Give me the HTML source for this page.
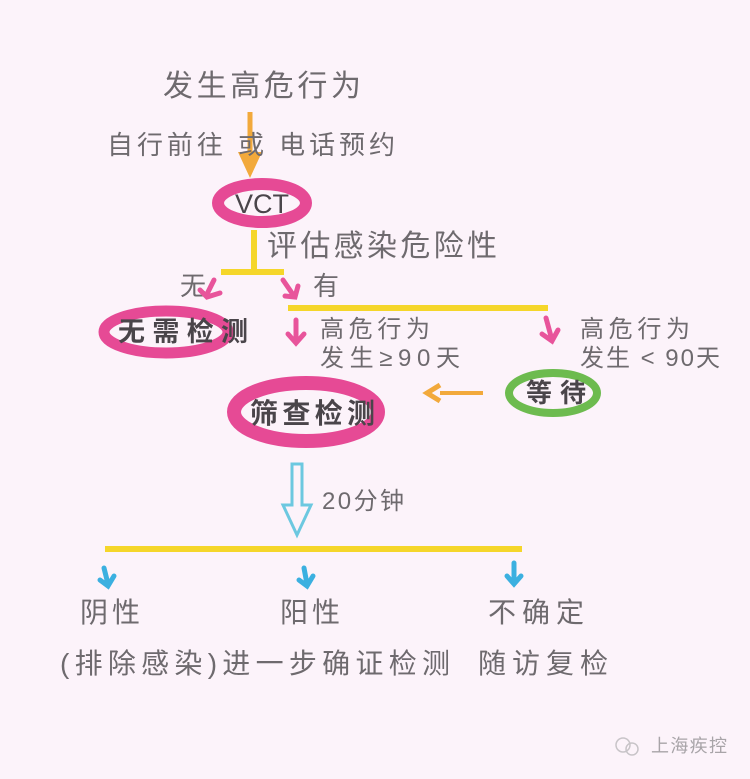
<!DOCTYPE html>
<html><head><meta charset="utf-8"><style>
html,body{margin:0;padding:0;background:#fcf3fa;}
svg{display:block}
text{font-family:"Liberation Sans","Noto Sans CJK SC",sans-serif;fill:#6e6a6e;}
.b{font-weight:bold;fill:#4a454a}
</style></head><body>
<svg width="750" height="779" viewBox="0 0 750 779" xmlns="http://www.w3.org/2000/svg">
<rect width="750" height="779" fill="#fcf3fa"/>
<text x="163" y="96" font-size="30" textLength="198">发生高危行为</text>
<line x1="250" y1="112" x2="250" y2="160" stroke="#f2a93b" stroke-width="5"/>
<polygon points="238,152 262,152 250,178" fill="#f2a93b"/>
<text x="107" y="154" font-size="26" textLength="288">自行前往 或 电话预约</text>
<ellipse cx="262" cy="203" rx="44" ry="19" fill="none" stroke="#e64a95" stroke-width="12"/>
<text x="262" y="213" font-size="27" text-anchor="middle" style="fill:#4a454a">VCT</text>
<line x1="254" y1="230" x2="254" y2="272" stroke="#f5d62a" stroke-width="6"/>
<line x1="221" y1="272" x2="284" y2="272" stroke="#f5d62a" stroke-width="6"/>
<text x="267" y="256" font-size="30" textLength="230">评估感染危险性</text>
<text x="180" y="295" font-size="26">无</text>
<text x="313" y="295" font-size="26">有</text>
<path d="M214,280 L206,296 M200,290 L207,297 L220,293" stroke="#e8549b" stroke-width="5" fill="none" stroke-linecap="round"/>
<path d="M283,280 L294,296 M285,296 L295,297 L298,286" stroke="#e8549b" stroke-width="5" fill="none" stroke-linecap="round"/>
<line x1="288" y1="308" x2="548" y2="308" stroke="#f5d62a" stroke-width="6"/>
<ellipse cx="166" cy="332" rx="62" ry="21" fill="none" stroke="#e64a95" stroke-width="11"/>
<text x="118" y="341" font-size="27" textLength="130" class="b" style="font-weight:600">无需检测</text>
<path d="M296,320 L296,342 M288,334 L296,343 L304,334" stroke="#e8549b" stroke-width="5" fill="none" stroke-linecap="round"/>
<text x="320" y="337" font-size="24" textLength="110">高危行为</text>
<text x="320" y="366" font-size="24" textLength="140">发生≥90天</text>
<path d="M546,318 L552,340 M542,334 L552,341 L558,330" stroke="#e8549b" stroke-width="5" fill="none" stroke-linecap="round"/>
<text x="580" y="337" font-size="24" textLength="110">高危行为</text>
<text x="580" y="366" font-size="24" textLength="140">发生 &lt; 90天</text>
<ellipse cx="553" cy="393" rx="44" ry="20" fill="none" stroke="#6dbb4f" stroke-width="8"/>
<text x="526" y="402" font-size="26" textLength="60" class="b" style="font-weight:600">等待</text>
<line x1="440" y1="393" x2="483" y2="393" stroke="#f2a93b" stroke-width="4"/>
<path d="M440,385 L427,393 L440,401" stroke="#f2a93b" stroke-width="5" fill="none"/>
<ellipse cx="306" cy="412" rx="72" ry="29" fill="none" stroke="#e64a95" stroke-width="14"/>
<text x="250" y="423" font-size="28" textLength="125" class="b" style="font-weight:600">筛查检测</text>
<path d="M292,464 L302,464 L302,505 L311,505 L297,535 L283,505 L292,505 Z" fill="none" stroke="#6cc8e0" stroke-width="3"/>
<text x="322" y="509" font-size="24" textLength="82">20分钟</text>
<line x1="105" y1="549" x2="522" y2="549" stroke="#f5d62a" stroke-width="6"/>
<path d="M104,568 L108,584 M100,580 L108,586 L114,576" stroke="#3bb0e0" stroke-width="5" fill="none" stroke-linecap="round"/>
<path d="M304,568 L307,584 M299,580 L307,586 L313,576" stroke="#3bb0e0" stroke-width="5" fill="none" stroke-linecap="round"/>
<path d="M514,563 L514,583 M507,576 L514,584 L521,576" stroke="#3bb0e0" stroke-width="5" fill="none" stroke-linecap="round"/>
<text x="80" y="622" font-size="28" textLength="60">阴性</text>
<text x="280" y="622" font-size="28" textLength="60">阳性</text>
<text x="488" y="622" font-size="28" textLength="96">不确定</text>
<text x="60" y="673" font-size="28" textLength="390">(排除感染)进一步确证检测</text>
<text x="478" y="673" font-size="28" textLength="130">随访复检</text>
<circle cx="623" cy="745" r="7" fill="none" stroke="#c8c4c8" stroke-width="1.5"/>
<circle cx="632" cy="749" r="6" fill="none" stroke="#c8c4c8" stroke-width="1.5"/>
<text x="651" y="752" font-size="18" style="fill:#a8a4a8" textLength="76">上海疾控</text>
</svg>
</body></html>
